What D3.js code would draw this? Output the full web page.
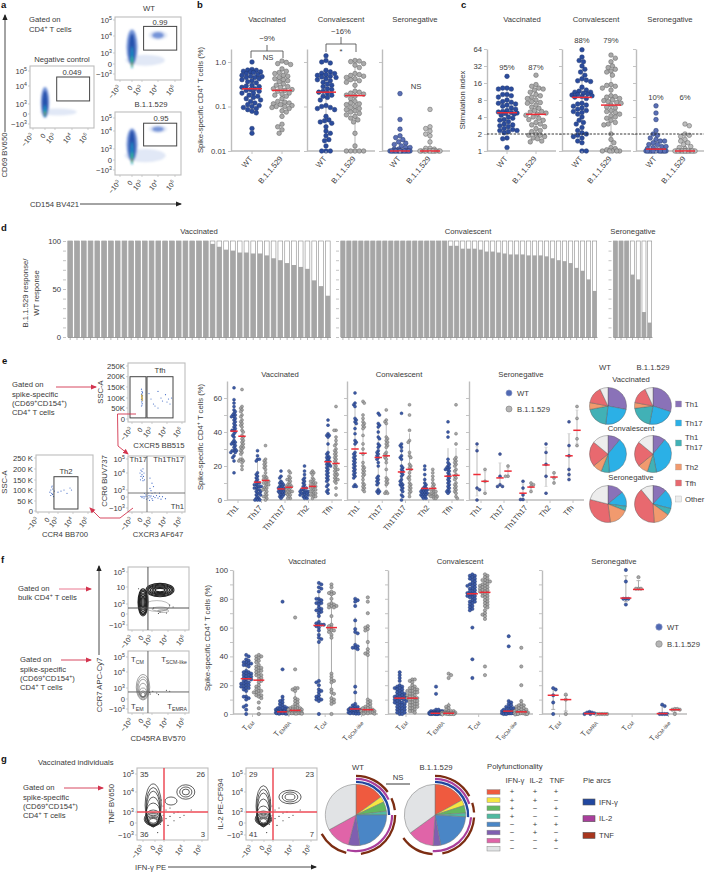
<!DOCTYPE html>
<html><head><meta charset="utf-8">
<script src="https://cdn.jsdelivr.net/npm/d3@7/dist/d3.min.js"></script>
<style>html,body{margin:0;padding:0;background:#fff}svg{display:block}text{font-family:"Liberation Sans",Arial,sans-serif;fill:#3a3a3a}</style>
</head><body><svg id="c" width="705" height="872"></svg>
<script>
// ---------- DATA ----------
const groups=["Vaccinated","Convalescent","Seronegative"];
const variants=["WT","B.1.1.529"];
const flowTicks=["−10^{3}","0","10^{3}","10^{4}","10^{5}"];
const flowUnits=[-1,0,1,2,3];
const sscTicks=[0,50,100,150,200,250];
// panel b
const bTicks=[0.01,0.1,1];
const bMed=[[0.25,0.23],[0.21,0.176],[0.01,0.01]];
const bVacWT=[1.0,.68,.66,.65,.62,.6,.6,.58,.55,.52,.5,.48,.47,.45,.45,.42,.4,.38,.36,.34,.3,.29,.28,.27,.25,.24,.23,.22,.2,.2,.18,.17,.16,.15,.14,.13,.12,.11,.105,.1,.095,.09,.085,.078,.072,.032,.025];
const bVacB=[1.05,.98,.92,.88,.7,.62,.58,.55,.5,.48,.45,.42,.4,.38,.36,.32,.3,.28,.27,.25,.24,.23,.22,.2,.19,.18,.17,.15,.13,.125,.12,.115,.11,.105,.1,.1,.095,.09,.08,.075,.06,.04,.035,.03,.025];
const bConWT=[1.38,1.08,1.0,.95,.65,.6,.56,.55,.52,.5,.48,.46,.45,.42,.4,.38,.35,.32,.3,.28,.25,.24,.22,.21,.2,.18,.17,.16,.14,.105,.1,.095,.09,.085,.06,.05,.048,.045,.042,.035,.028,.025,.022,.018,.017,.013,.01,.01,.01];
const bConB=[1.08,1.05,1.02,.92,.85,.75,.55,.52,.5,.48,.45,.42,.4,.38,.35,.3,.22,.21,.2,.19,.18,.17,.15,.13,.12,.115,.11,.1,.095,.09,.085,.08,.075,.07,.065,.06,.055,.05,.045,.025,.013,.01,.01,.01,.01,.01];
const bSerWT=[.195,.051,.031,.022,.02,.018,.016,.015,.014,.013,.012,.012,.011,.011,.01,.01,.01,.01,.01,.01,.01,.01,.01,.01,.01,.01,.01,.01,.01,.01];
const bSerB=[.086,.035,.032,.028,.024,.022,.016,.0115,.0115,.011,.01,.01,.01,.01,.01,.01,.01,.01,.01,.01,.01,.01];
// panel c
const cTicks=[1,2,4,8,16,32,64];
const cMed=[[4.76,4.46],[8.9,6.5],[1.08,1]];
const cPct=[["95%","87%"],["88%","79%"],["10%","6%"]];
const cPctVal=[[27,27],[82,82],[8,8]];
const cVacWT=[21,13,13,12.5,12.5,10,10,9.5,9,8,7.5,7.3,7,6.8,6.5,6.2,5.8,5.5,5.2,5,4.9,4.8,4.7,4.6,4.5,4.3,4,3.8,3.6,3.5,3.3,3,2.9,2.8,2.7,2.5,2.4,2.3,2.3,2.2,2.1,1.7,1.65,1.15];
const cVacB=[22,15,14,13,12.5,12,11,10,9.5,9,8.5,8,7.5,7.2,7,6.5,6,5.7,5.2,5,4.9,4.7,4.5,4.3,4,3.8,3.6,3.5,3.2,3,2.9,2.7,2.5,2.3,2.2,2,1.9,1.9,1.8,1.7,1.65,1.5,1.45];
const cConWT=[62,46,40,38,32,28,25,22,19,18,17.5,17,13.5,12,11.5,11,11,10.5,10.2,10,9.8,9.5,9.2,9,8.5,7,6.8,6.5,6.2,5.8,5.5,5.2,5,4.8,4.5,4,3.5,3.2,3,2.6,2.3,2.1,2,1.9,1.8,1.7,1.5,1.4,1,1];
const cConB=[50,44,38,32,30,28,26,25,22,15,14.5,14,13,12,9.5,9.2,9,8.5,8,7.8,7.5,7.2,7,6.5,6,5.8,5.2,5,4.8,4.5,4.2,4,3.8,3.5,3.2,3,2.9,2,1.6,1.4,1.15,1.1,1.05,1,1,1,1,1];
const cSerWT=[6.3,4.7,3.6,2.3,2,1.9,1.7,1.6,1.5,1.5,1.4,1.3,1.3,1.2,1.2,1.15,1.1,1.05,1,1,1,1,1,1,1,1,1,1,1,1,1,1];
const cSerB=[3,2.8,2,1.9,1.8,1.6,1.5,1.4,1.3,1.2,1.15,1.1,1,1,1,1,1,1,1,1,1,1,1,1,1,1,1,1];
// panel d
const dVac=[100,100,100,100,100,100,100,100,100,100,100,100,100,100,100,100,100,100,100,100,100,97,94,91,90,88,88,87,87,85,82,80,77,75,73,71,59,53,43];
const dCon=[100,100,100,100,100,100,100,100,100,100,100,100,100,100,100,100,100,100,95,95,92,92,92,91,89,89,88,87,86,86,86,85,85,85,84,82,80,79,77,72,69,60,48];
const dSer=[100,100,100,65,60,26,15];
// panel e
const eCats=["Th1","Th17","Th1Th17","Th2","Tfh"];
const eMedVac=[[40.5,37.5],[10.5,11.5],[6.5,7.5],[7,8],[22.5,21.5]];
const eMedCon=[[30,27.5],[25,26],[16.5,18],[6.8,6.8],[14,14.5]];
const eMedSer=[[15,11],[13,17],[4,7.6],[20.6,13.5],[26,41]];
const eVac=[
[[66,59,57,55,53,52,51,50,50,49,49,48,47,46,45,44,43,42,41,41,40,39,38,37,35,34,34,33,33,32,31,30,29,29,29,28,28,26,25,23,16],[65,55,54,53,52,50,49,47,46,45,44,43,41,40,38,37,36,35,34,33,32,31,31,30,29,28,27,24,24,23,23,22,20,18]],
[[29,26,24,24,23,16,15,14,13,12,11,10,10,9,9,8,8,8,7,7,6,6,5,5,4,4,3,3,2,1,1,0,0,0],[32,24,23,22,21,20,19,18,16,14,14,13,12,12,11,11,10,10,9,9,8,7,7,6,6,5,4,3,2,2,1,0]],
[[17,14,13,11,10,10,9,9,8,8,7,7,7,6,6,6,5,5,5,4,4,4,3,3,2,2,1],[17,16,14,13,12,12,11,10,9,9,8,8,8,7,7,6,6,5,5,5,4,4,3,3,2,1,1]],
[[20,17,15,13,12,11,10,9,8,7,7,6,6,5,5,5,5,4,4,4,4,3,3,3,2,2,1,1],[17,16,16,15,13,12,11,11,10,10,9,9,8,8,7,7,6,6,5,5,4,4,3,3,2,2,1]],
[[47,44,39,38,38,37,33,28,27,26,25,25,24,23,23,22,21,21,20,20,19,18,17,16,15,14,13,12,11,9,8,6,5,4],[55,41,41,37,35,33,32,30,29,28,27,26,25,24,23,22,21,20,19,18,18,17,16,15,15,14,13,12,12,11,10,7,3]]];
const eCon=[
[[63,57,56,55,48,47,46,45,42,39,35,34,33,28,27,26,25,24,23,22,21,20,19,18,17,16,15,14,13,9,8,8],[58,57,50,48,46,45,44,43,42,38,33,30,27,22,20,19,18,17,16,15,14,12,10,9,8,7,6,5]],
[[51,50,45,44,43,40,37,36,33,32,31,29,28,27,26,25,24,22,20,14,13,12,11,10,9,6,5,5,4],[53,47,46,45,37,36,35,34,33,32,31,28,27,26,25,24,22,18,13,12,11,10,9,5,4,4]],
[[51,33,32,31,29,26,25,24,20,19,18,17,16,15,14,12,11,10,9,9,8,7,6,5,3,2,0],[56,50,41,35,34,28,26,25,21,20,19,18,16,14,13,12,10,9,8,7,6,5,4,2]],
[[20,18,15,12,10,9,8,7,7,6,6,6,5,5,5,4,4,4,3,3,3,2,2,1,1],[18,16,14,12,10,9,8,7,6,6,5,5,4,4,3,3,3,2,2,2,1,1]],
[[46,40,37,24,22,21,20,19,19,18,18,17,16,15,14,13,12,11,10,9,8,7,6,5,5,4],[56,39,33,25,24,23,22,21,20,18,17,15,14,13,12,10,9,8,7,6,5,4,2,1]]];
const eSer=[
[[33,29,7,6,0],[18,11,4]],
[[27,14,9,8,8],[20,14,14]],
[[11,7,3,0.3,0.3],[10,9,8,5]],
[[33,28,21,14,4],[16,13,10]],
[[46,32,26,18,15,12],[55,48,36,32]]];
const pieNames=["Th1","Th17","Th1 Th17","Th2","Tfh","Other"];
const pieVac=[[28,24,20,6,15,7],[30,23,20,5,15,7]];
const pieCon=[[11,38,7,8,22,14],[11,36,8,9,22,14]];
const pieSer=[[14,13,4,17,31,21],[12,17,6,14,40,11]];
// panel f
const fCats=["T_{EM}","T_{EMRA}","T_{CM}","T_{SCM-like}"];
const fMedVac=[[24.5,23.5],[1.5,2.5],[61.5,60],[3.5,3]];
const fMedCon=[[11,11],[0.5,0.5],[83.5,84.5],[2,1.5]];
const fMedSer=[[13,10],[0.3,0.2],[80.5,86.5],[0.3,3]];
const fVac=[
[[41,40,38,37,36,36,35,35,34,34,33,30,29,29,28,28,27,27,26,26,25,25,24,24,23,22,22,21,21,20,20,19,19,18,18,17,16,12,12,11,10,6,5,3,0],[41,40,40,39,38,37,36,34,33,32,32,31,30,30,29,28,27,27,26,25,24,23,22,20,19,18,17,16,16,15,15,14,13,13,12,11,8,4,0]],
[[78,31,12,10,9,8,7,6,5,5,4,4,4,3,3,3,3,2,2,2,2,2,2,1,1,1,1,1,1,1,1,.5,.5,.5,.5,.5,.5,.2,.2,.2],[67,31,18,18,17,16,11,10,9,8,7,6,5,5,4,4,4,3,3,3,3,2,2,2,2,1,1,1,1,1,1,.5,.5,.5,.5,.5,.2,.2]],
[[91,90,88,87,85,80,80,79,78,77,77,76,74,73,72,72,71,70,68,64,63,62,62,62,61,60,58,55,53,52,50,23,22,20,17,16,15,13,12,11,10,10,9,0],[90,88,85,84,84,83,80,77,76,76,75,75,74,74,68,62,61,60,59,58,58,57,55,53,28,26,24,23,22,17,15,14,11,10,9,8,7,0]],
[[80,79,78,75,65,59,57,56,48,47,46,46,45,19,15,7,6,5,5,4,4,3,3,3,3,2,2,2,2,1,1,1,1,1,.5,.5,.5,.2,.2],[81,78,70,61,60,59,58,50,45,43,42,41,10,9,8,7,6,5,5,4,4,3,3,3,2,2,2,2,1,1,1,.5,.5,.2,.2]]];
const fCon=[
[[29,27,25,23,20,19,19,18,18,17,17,16,15,15,14,14,13,13,12,12,12,11,11,11,10,10,10,9,9,8,8,8,7,7,6,6,5,5,4,4,3,3,2,2,1,1,0,0],[24,24,23,22,20,19,18,18,17,17,16,16,16,15,15,14,14,13,13,12,12,11,11,11,10,10,9,9,8,8,7,7,6,6,5,5,4,4,3,2,2,1]],
[[19,14,3,3,2,2,2,2,1,1,1,1,1,1,1,.5,.5,.5,.5,.5,.5,.5,.2,.2,.2,.2,.2,.2,0,0,0,0,0,0],[28,27,25,6,5,4,3,2,2,2,1,1,1,1,1,.5,.5,.5,.5,.5,.5,.2,.2,.2,.2,0,0,0,0,0]],
[[97,96,96,95,94,94,93,92,91,90,90,89,89,88,87,87,86,85,85,84,84,83,83,82,82,81,81,80,79,78,78,77,76,75,74,73,72,60,38,25],[97,96,95,94,93,93,92,92,91,90,90,89,89,88,88,87,87,86,86,85,85,84,84,83,82,82,81,80,79,78,77,76,75,74,72,70,69,68,66,33,27]],
[[54,47,9,8,7,6,5,5,4,4,3,3,3,2,2,2,2,1,1,1,1,1,1,.5,.5,.5,.5,.5,.5,0,0,0],[46,33,20,9,7,6,6,5,5,4,4,3,3,3,2,2,2,1,1,1,1,1,.5,.5,.5,.5,0,0,0,0]]];
const fSer=[
[[18,17,13,8,0],[13.5,10,0]],
[[1.5,1,1,.5,0,0],[0,0,0,0,0]],
[[100,92,80,80,80,76],[95,87,87,87]],
[[6.5,5.5,0,0,0,0],[3.5,3.5,3,3,0]]];
// panel a/e/f/g flow cytometry read-offs
const aTitles=["Negative control","WT","B.1.1.529"];
const aGateVals=["0.049","0.99","0.95"];
const aGate=[1.1,3.1,1.17,2.6];
const densityCols=["#c9d5ef","#6f8fd6","#2450ac","#1f8fc4","#37c48c","#e9d23a","#e8662a"];
const densNeg=[[1.2,.2,1.1,.35,0],[0,1.1,.42,.85,1],[0,1.0,.3,.75,2],[0,.3,.15,.6,3],[0,.1,.1,.3,4],[0,.02,.05,.12,6]];
const densWT=[[1.2,.35,1.2,.5,0],[0,1.35,.55,1.05,1],[0,1.2,.34,.95,2],[0,.6,.14,.8,3],[0,.2,.1,.5,4],[0,.02,.05,.15,6],[2,2.05,.55,.3,0],[2,2.05,.35,.2,1]];
const densB=[[1.2,.4,1.25,.6,0],[0,1.25,.55,.95,1],[0,1.15,.34,.9,2],[0,.6,.14,.8,3],[0,.2,.1,.5,4],[0,.02,.05,.15,6],[2,2.15,.55,.3,0],[2,2.15,.35,.2,1]];
const tfhPts=[[-.05,140],[0,130],[.05,125],[0,120],[-.05,115],[.05,112],[0,108],[-.03,105],[.03,100],[0,96],[-.05,92],[.05,90],[0,85],[-.03,80],[.02,72],[0,65],[-.05,60],[.9,95],[1.1,70],[1.2,60],[1.4,130],[1.4,50],[1.6,100],[1.7,85],[1.9,115],[2,80],[2.1,95],[2.2,70],[2.3,100],[.7,120]];
const tfhHot=[[0,98],[0,105],[.02,90],[-.02,112]];
const th2Pts=[[.1,90],[.2,100],[.3,115],[.3,85],[.4,105],[.5,70],[.4,80],[1,90],[1.2,95],[1.4,100],[1.6,85],[1.8,110],[1.9,100],[.2,75],[.35,120],[.6,95]];
const ccr6Pts=[[-.1,2.2],[.1,2.3],[0,2.1],[-.2,2],[.2,2],[0,1.9],[-.1,1.8],[.15,1.8],[.05,1.7],[-.15,1.6],[.1,1.55],[.25,1.6],[.8,1.7],[1,1.4],[1.1,1.2],[.8,1.1],[.9,.9],[.4,.3],[.5,.1],[.6,-.1],[.7,.2],[.8,0],[.9,.15],[1,-.15],[1.1,.1],[1.2,-.05],[1.3,.2],[1.4,-.1],[1.5,.1],[1.6,-.2],[1.7,.05],[1.9,-.15],[.3,.05],[.2,-.1],[.1,.1],[0,-.05],[-.1,.08],[.25,.5],[.6,.55],[1,.5],[1.2,.6],[1.5,.55],[.45,-.2],[.75,-.3],[1.05,-.3]];
const bulkDark=[[0,1.1,.55,.8],[0,1.1,.5,.72],[0,1.1,.45,.65],[0,1.1,.4,.55],[0,1.1,.3,.45],[0,1.1,.2,.35],[0,1.1,.1,.3],[1.5,1.82,.85,.42],[1.5,1.82,.78,.36],[1.5,1.82,.7,.3],[1.5,1.82,.6,.25],[1.5,1.82,.5,.2],[1.5,1.82,.4,.15],[1.5,1.82,.3,.1]];
const bulkLight=[[1.3,.8,.8,.4],[1.5,.5,.5,.2],[1.7,.3,.35,.15]];
const bulkDots=[[.6,1.9],[1.1,.6],[1.5,.2],[2.1,.9],[2.3,.7],[-.4,1.9],[1.9,.1],[1.4,.05]];
const specContours=[[0,1.05,.75,.8],[0,1,.65,.7],[0,.95,.55,.6],[0,.8,.45,.5],[0,.6,.38,.4],[0,.45,.3,.3],[0,.4,.2,.2]];
const specDots=[[.75,.6],[.8,.45],[1.05,.7],[1.3,.55],[1.4,.4],[1.9,.8],[2.1,.7]];
const tnfContours=[[-.15,1.35,.85,1.1],[-.15,1.25,.75,1.0],[-.15,1.15,.7,.9],[-.15,1.0,.7,.75],[-.15,.8,.75,.65],[-.15,.5,.85,.6],[-.15,.35,.95,.6],[-.15,.3,.85,.55],[-.15,.25,.75,.45],[-.15,.2,.65,.38],[-.15,.2,.5,.3],[-.15,.2,.38,.22],[2.1,2,.5,.4],[2.1,2,.34,.28],[2.1,2,.2,.16],[1.35,1.55,.3,.2]];
const il2Contours=[[-.05,1.3,.8,1.05],[-.05,1.2,.72,.95],[-.05,1.1,.66,.85],[-.05,.95,.66,.7],[-.05,.7,.72,.6],[-.05,.5,.8,.55],[-.05,.35,.9,.55],[-.05,.3,.8,.5],[-.05,.25,.7,.42],[-.05,.2,.6,.35],[-.05,.2,.46,.27],[-.05,.2,.34,.2],[1.85,1.75,.6,.35],[1.85,1.75,.42,.25],[1.85,1.75,.26,.15]];
const gDots=[[.7,1.6],[.9,1.3],[1.1,1.1],[1.3,1.2],[1.5,.9],[1.7,1],[2,.7],[.9,.7],[1.1,.4],[1.3,.6],[1.5,.2],[1.8,.5],[.6,-.1],[1.2,-.2],[.8,.2],[2.4,1.1],[.3,-.8]];
const gPlotVals=[["35","26","36","3"],["29","23","41","7"]];
const polyCols=["#ef5a3f","#f5e642","#62b85f","#4fb9a0","#4a86c6","#7f5fb0","#e064a8","#e1e3e5"];
const polyWT=[15,3,5,2,23,6,13,33];
const polyB=[17,3,4,2,21,4,14,35];
const ifnSigns=["+","+","+","+","−","−","−","−"];
const il2Signs=["+","+","−","−","+","+","−","−"];
const tnfSigns=["+","−","+","−","+","−","+","−"];
const arcNames=["IFN-γ","IL-2","TNF"];

// ---------- HELPERS ----------
const svg=d3.select("#c");
const FS=7.7;
const blue="#2b4c9e",blueS="#22386f",grey="#aaaaaa",greyS="#5e5e5e",red="#ee2b36",axisC="#bdbdbd";
const defs=svg.append("defs");
defs.append("filter").attr("id","bl").attr("x","-30%").attr("y","-30%").attr("width","160%").attr("height","160%").append("feGaussianBlur").attr("stdDeviation",1);
function marker(id,c){defs.append("marker").attr("id",id).attr("viewBox","0 0 6 6").attr("refX",5).attr("refY",3).attr("markerWidth",6).attr("markerHeight",6).attr("markerUnits","userSpaceOnUse").attr("orient","auto").append("path").attr("d","M0,0.4L6,3L0,5.6Z").attr("fill",c);}
marker("ak","#222");marker("ar","#d3344e");
function txt(g,x,y,s,o={}){
  const fs=o.fs||FS;
  const t=g.append("text").attr("x",x).attr("y",y).attr("font-size",fs).attr("text-anchor",o.a||"start");
  if(o.rot!=null)t.attr("transform",`rotate(${o.rot},${x},${y})`);
  if(o.w)t.attr("font-weight",o.w);
  if(o.fill)t.style("fill",o.fill);
  rich(t,s,fs);return t;
}
function rich(t,s,fs){
  const parts=String(s).match(/\^\{[^}]*\}|_\{[^}]*\}|[^\^_]+/g)||[];
  let back=0;
  parts.forEach(p=>{
    const sup=p[0]==="^",sub=p[0]==="_";
    const sp=t.append("tspan");
    if(sup||sub){const d=sup?-fs*.38:fs*.25;sp.attr("dy",d+back).attr("font-size",fs*.68).text(p.slice(2,-1));back=-d;}
    else{if(back)sp.attr("dy",back);sp.text(p);back=0;}
  });
}
function letter(x,y,s){txt(svg,x,y,s,{fs:9.5,w:"bold",fill:"#111"});}
function yAxis(x,scale,vals,labeled,fmt){
  const ax=d3.axisLeft(scale).tickValues(vals).tickSize(3).tickSizeOuter(0).tickPadding(2);
  ax.tickFormat(labeled?(fmt||(d=>d)):"");
  const g=svg.append("g").attr("transform",`translate(${x},0)`).call(ax);
  g.select(".domain").attr("stroke",axisC).attr("stroke-width",1.4);
  g.selectAll(".tick line").attr("stroke",axisC).attr("stroke-width",.9);
  g.selectAll("text").attr("font-size",FS).attr("font-family","Liberation Sans");
  return g;
}
function baseline(x0,x1,y){svg.append("line").attr("x1",x0).attr("x2",x1).attr("y1",y).attr("y2",y).attr("stroke",axisC).attr("stroke-width",1.4);}
function xTickLabel(x,y,s,tick=true){
  if(tick)svg.append("line").attr("x1",x).attr("x2",x).attr("y1",y).attr("y2",y+3).attr("stroke",axisC).attr("stroke-width",.9);
  txt(svg,x+1,y+8,s,{a:"end",rot:-50});
}
function dodge(vals,ys,d,maxW){
  const pts=vals.map(v=>({v,py:ys(v)})).sort((a,b)=>a.py-b.py);
  const placed=[];const step=d/3;
  pts.forEach(p=>{
    let best=0,bestScore=-1;
    for(let k=0;k*step<=maxW;k++){
      const cands=k===0?[0]:(placed.length%2?[k*step,-k*step]:[-k*step,k*step]);
      let found=false;
      for(const off of cands){
        let m=Infinity;
        placed.forEach(q=>{const dd=Math.hypot(q.off-off,q.py-p.py);if(dd<m)m=dd;});
        if(m>=d){best=off;found=true;break;}
        if(m>bestScore){bestScore=m;best=off;}
      }
      if(found)break;
    }
    p.off=best;placed.push(p);
  });
  return placed;
}
function swarm(vals,cx,ys,med,o){
  const g=svg.append("g");
  const sorted=vals.slice().sort(d3.ascending);
  const lo=d3.quantile(sorted,o.ql||.1),hi=d3.quantile(sorted,o.qh||.9);
  g.append("line").attr("x1",cx).attr("x2",cx).attr("y1",ys(Math.max(lo,o.floor||lo))).attr("y2",ys(hi)).attr("stroke",o.wc||"#a5a5a5").attr("stroke-width",o.ww||.8);
  if(o.cap)[lo,hi].forEach(v=>g.append("line").attr("x1",cx-o.cap).attr("x2",cx+o.cap).attr("y1",ys(Math.max(v,o.floor||v))).attr("y2",ys(Math.max(v,o.floor||v))).attr("stroke",o.wc||"#a5a5a5").attr("stroke-width",.8));
  g.selectAll("circle").data(dodge(vals,ys,o.d,o.maxW)).join("circle")
    .attr("cx",p=>cx+p.off).attr("cy",p=>p.py).attr("r",o.r).attr("fill",o.fill).attr("stroke",o.stroke).attr("stroke-width",o.sw||.5);
  g.append("line").attr("x1",cx-o.hw).attr("x2",cx+o.hw).attr("y1",ys(med)).attr("y2",ys(med)).attr("stroke",red).attr("stroke-width",1.5);
}
function flow(c){
  const xs=d3.scaleLinear().domain(flowUnits).range(c.xt);
  const ys=d3.scaleLinear().domain(c.yd||flowUnits).range(c.yt);
  const [x0,x1,y0,y1]=c.frame;
  const id="cl"+Math.round(x0)+"_"+Math.round(y0);
  defs.append("clipPath").attr("id",id).append("rect").attr("x",x0).attr("y",y0).attr("width",x1-x0).attr("height",y1-y0);
  const g=svg.append("g");
  const inner=g.append("g").attr("clip-path",`url(#${id})`);
  if(c.dens){
    inner.append("g").attr("filter","url(#bl)").selectAll("ellipse").data(c.dens).join("ellipse")
      .attr("cx",d=>xs(d[0])).attr("cy",d=>ys(d[1]))
      .attr("rx",d=>Math.abs(xs(d[0]+d[2])-xs(d[0]))).attr("ry",d=>Math.abs(ys(d[1]+d[3])-ys(d[1])))
      .attr("fill",d=>densityCols[d[4]]).attr("opacity",d=>d[4]===0?.55:.95);
  }
  if(c.pts)inner.selectAll(".p").data(c.pts).join("circle").attr("cx",d=>xs(d[0])).attr("cy",d=>ys(d[1])).attr("r",c.pr||.6).attr("fill",c.pc||"#3f68c4");
  if(c.hot)inner.selectAll(".h").data(c.hot).join("circle").attr("cx",d=>xs(d[0])).attr("cy",d=>ys(d[1])).attr("r",.8).attr("fill","#e7b52c");
  const ell=(data,col,w)=>inner.append("g").selectAll("ellipse").data(data).join("ellipse")
      .attr("cx",d=>xs(d[0])).attr("cy",d=>ys(d[1]))
      .attr("rx",d=>Math.abs(xs(d[0]+d[2])-xs(d[0]))).attr("ry",d=>Math.abs(ys(d[1]+d[3])-ys(d[1])))
      .attr("fill","none").attr("stroke",col).attr("stroke-width",w);
  if(c.cont2)ell(c.cont2,"#777",.5);
  if(c.cont)ell(c.cont,c.cc||"#222",c.cw||.8);
  if(c.dots)inner.selectAll(".d").data(c.dots).join("circle").attr("cx",d=>xs(d[0])).attr("cy",d=>ys(d[1])).attr("r",.55).attr("fill","#222");
  g.append("rect").attr("x",x0).attr("y",y0).attr("width",x1-x0).attr("height",y1-y0).attr("fill","none").attr("stroke","#bdbdbd").attr("stroke-width",1.1);
  // ticks
  const yl=c.yl||flowTicks,yd=c.yd||flowUnits;
  yd.forEach((v,i)=>{
    g.append("line").attr("x1",x0-2).attr("x2",x0).attr("y1",ys(v)).attr("y2",ys(v)).attr("stroke","#bbb").attr("stroke-width",.7);
    txt(g,x0-3,ys(v)+2.6,yl[i],{a:"end"});
  });
  flowUnits.forEach((v,i)=>{
    g.append("line").attr("x1",xs(v)).attr("x2",xs(v)).attr("y1",y1).attr("y2",y1+2).attr("stroke","#bbb").attr("stroke-width",.7);
    txt(g,xs(v)+1,y1+8,flowTicks[i],{a:"end",rot:-50,fs:7});
  });
  (c.gates||[]).forEach(q=>{
    g.append("rect").attr("x",xs(q[0])).attr("y",ys(q[3])).attr("width",xs(q[1])-xs(q[0])).attr("height",ys(q[2])-ys(q[3])).attr("fill","none").attr("stroke",q[4]||"#444").attr("stroke-width",1);
  });
  if(c.cross){
    const cc=c.crossC||"#555",cw=c.crossW||1;
    g.append("line").attr("x1",xs(c.cross[0])).attr("x2",xs(c.cross[0])).attr("y1",y0).attr("y2",y1).attr("stroke",cc).attr("stroke-width",cw);
    g.append("line").attr("x1",x0).attr("x2",x1).attr("y1",ys(c.cross[1])).attr("y2",ys(c.cross[1])).attr("stroke",cc).attr("stroke-width",cw);
  }
  return {xs,ys,g};
}
function arrow(x1,y1,x2,y2,m,col,w){svg.append("line").attr("x1",x1).attr("y1",y1).attr("x2",x2).attr("y2",y2).attr("stroke",col).attr("stroke-width",w||.9).attr("marker-end",`url(#${m})`);}
function polyArrow(d){svg.append("path").attr("d",d).attr("fill","none").attr("stroke","#d3344e").attr("stroke-width",.9).attr("marker-end","url(#ar)");}
function lines(x,ys,arr,o={}){arr.forEach((s,i)=>txt(svg,x,ys[i],s,o));}
const wtOpt=(extra)=>Object.assign({fill:blue,stroke:blueS},extra);
const bOpt=(extra)=>Object.assign({fill:grey,stroke:greyS},extra);

// ---------- PANEL a ----------
letter(1,8,"a");letter(197,8,"b");letter(461,8,"c");letter(1,231,"d");letter(2,364,"e");letter(1,563,"f");letter(1,762,"g");
lines(29,[22,32],["Gated on","CD4^{+} T cells"]);
const aPlots=[
 {frame:[30,94,66,128],xt:[33,45,55,72,88],yt:[124,114,104,86,71],dens:densNeg,tx:62,ty:62,vx:72,vy:75},
 {frame:[115,181,17,80],xt:[120,132,142,158,175],yt:[74,64,53,36,20],dens:densWT,tx:149,ty:11,vx:160,vy:24.5},
 {frame:[115,181,112,175],xt:[120,132,142,158,175],yt:[170,160,149,131,118],dens:densB,tx:151,ty:107,vx:161,vy:120.5}];
aPlots.forEach((p,i)=>{
  flow(Object.assign({gates:[aGate]},p));
  txt(svg,p.tx,p.ty,aTitles[i],{a:"middle"});
  txt(svg,p.vx,p.vy,aGateVals[i],{a:"middle"});
});
txt(svg,7,155,"CD69 BV650",{a:"middle",rot:-90});
arrow(5,132,5,15,"ak","#333");
txt(svg,30,207,"CD154 BV421");
arrow(80,204,181,204,"ak","#333");

// ---------- PANEL b ----------
const bY=d3.scaleLog().domain([0.01,1.96]).range([151,49]);
const bAxes=[[231,300],[307,375],[382,450]];
const bX=[[252,282],[326,355],[400,430]];
const bData=[[bVacWT,bVacB],[bConWT,bConB],[bSerWT,bSerB]];
const bTitleX=[267,341,415];
bAxes.forEach((a,i)=>{
  yAxis(a[0],bY,bTicks,i===0,d=>d===1?"1.0":String(d));
  baseline(a[0],a[1],151);
  txt(svg,bTitleX[i],22,groups[i],{a:"middle"});
  variants.forEach((v,j)=>{
    const f=(j===0?(i===2?"#5b6fb5":blue):(i===2?"#bdbdbd":grey));
    swarm(bData[i][j],bX[i][j],bY,bMed[i][j],{fill:f,stroke:j===0?blueS:greyS,r:2.3,d:4.3,maxW:10.5,hw:10,wc:"#888",ww:.6});
    xTickLabel(bX[i][j],151,v);
  });
});
txt(svg,203,100,"Spike-specific CD4^{+} T cells (%)",{a:"middle",rot:-90});
function bracket(x0,x1,y,h,stem){svg.append("path").attr("d",`M${x0},${y+h}V${y}H${x1}V${y+h}M${(x0+x1)/2},${y}V${y-stem}`).attr("fill","none").attr("stroke","#555").attr("stroke-width",.9);}
bracket(251,283,51,7,6);txt(svg,267,41,"−9%",{a:"middle"});txt(svg,268,60,"NS",{a:"middle"});
bracket(326,356,44,8,7);txt(svg,341,34,"−16%",{a:"middle"});txt(svg,341,54,"*",{a:"middle"});
txt(svg,416,89,"NS",{a:"middle"});

// ---------- PANEL c ----------
const cY=d3.scaleLog().base(2).domain([1,64]).range([151,49]);
const cAxes=[[487,556],[562,631],[636,704]];
const cX=[[507,536],[582,611],[656,685]];
const cData=[[cVacWT,cVacB],[cConWT,cConB],[cSerWT,cSerB]];
const cTitleX=[522,596,670];
cAxes.forEach((a,i)=>{
  yAxis(a[0],cY,cTicks,i===0);
  baseline(a[0],a[1],151);
  txt(svg,cTitleX[i],22,groups[i],{a:"middle"});
  variants.forEach((v,j)=>{
    const f=(j===0?(i===2?"#5b6fb5":blue):(i===2?"#bdbdbd":grey));
    swarm(cData[i][j],cX[i][j],cY,cMed[i][j],{fill:f,stroke:j===0?blueS:greyS,r:2.3,d:4.3,maxW:10.5,hw:10,wc:"#888",ww:.6});
    xTickLabel(cX[i][j],151,v);
    txt(svg,cX[i][j],cY(cPctVal[i][j]),cPct[i][j],{a:"middle"});
  });
});
svg.append("line").attr("x1",487).attr("x2",704).attr("y1",cY(2)).attr("y2",cY(2)).attr("stroke","#222").attr("stroke-width",.9).attr("stroke-dasharray","2.4,1.4");
txt(svg,465,100,"Stimulation index",{a:"middle",rot:-90});

// ---------- PANEL d ----------
const dY=d3.scaleLinear().domain([0,100]).range([337,241]);
const dMinor=[0,10,20,30,40,50,60,70,80,90,100];
const dPanels=[[dVac,67.5,330.5,0],[dCon,340.5,597,1],[dSer,613,652,2]];
const dTitleX=[199,468,633];
dPanels.forEach(([vals,x0,x1,i])=>{
  const bx=d3.scaleBand().domain(d3.range(vals.length)).range([x0,x1]).paddingInner(.3).paddingOuter(.05);
  const g=yAxis(x0-1.5,dY,dMinor,i===0,d=>(d%50===0?d:""));
  g.select(".domain").attr("stroke","none");
  const ag=svg.append("g").attr("transform","translate(0,337)").call(d3.axisBottom(bx).tickSize(3).tickFormat("").tickSizeOuter(0));
  ag.select(".domain").attr("stroke","#9a9a9a").attr("stroke-width",.9);
  ag.selectAll(".tick line").attr("stroke","#9a9a9a").attr("stroke-width",.7);
  svg.append("g").selectAll("rect").data(vals).join("rect").attr("x",(d,k)=>bx(k)).attr("width",bx.bandwidth()).attr("y",dY(100)).attr("height",dY(0)-dY(100)).attr("fill","#fff").attr("stroke","#8c8c8c").attr("stroke-width",.6);
  svg.append("g").selectAll("rect").data(vals).join("rect").attr("x",(d,k)=>bx(k)).attr("width",bx.bandwidth()).attr("y",d=>dY(d)).attr("height",d=>dY(0)-dY(d)).attr("fill","#a6a6a6");
  txt(svg,dTitleX[i],234,groups[i],{a:"middle"});
});
txt(svg,28,293,"B.1.1.529 response/",{a:"middle",rot:-90});
txt(svg,39,293,"WT response",{a:"middle",rot:-90});

// ---------- PANEL e ----------
const xtE=[132,142,152,167,182];
lines(12,[387,396.5,405.5,414.5],["Gated on","spike-specific","(CD69^{+}CD154^{+})","CD4^{+} T cells"]);
arrow(56,387,96,387,"ar","#d3344e");
const kLab=["0","50K","100K","150K","200K","250K"];
const tfhPlot=flow({frame:[128,185,363,422],xt:xtE,yt:[419,408,398,387,376.7,366],yd:sscTicks,yl:kLab,pts:tfhPts,hot:tfhHot,gates:[[-1.2,.4,5,200],[.5,2.4,5,200]]});
txt(svg,160,373,"Tfh",{a:"middle"});
txt(svg,103,392,"SSC-A",{a:"middle",rot:-90});
txt(svg,159,448,"CXCR5 BB515",{a:"middle"});
flow({frame:[36,93,455,512],xt:[38,49,58,73,88],yt:[511,501,490,480,469,458],yd:sscTicks,yl:["0","50 K","100 K","150 K","200 K","250 K"],pts:th2Pts,gates:[[.55,2.33,10,165]]});
txt(svg,66,474,"Th2",{a:"middle"});
txt(svg,7,482,"SSC-A",{a:"middle",rot:-90});
txt(svg,65,537,"CCR4 BB700",{a:"middle"});
flow({frame:[128,185,456,512],xt:xtE,yt:[508,497,490,473,459],pts:ccr6Pts,cross:[.5,.57],crossC:"#777"});
txt(svg,129.5,462,"Th17");txt(svg,184,462,"Th1Th17",{a:"end"});txt(svg,184,509,"Th1",{a:"end"});
txt(svg,107,481,"CCR6 BUV737",{a:"middle",rot:-90});
txt(svg,158,537,"CXCR3 AF647",{a:"middle"});
polyArrow("M136,414H117.5L118,446L128,454");
polyArrow("M133,508L120,518H100L90,508");

const eY=d3.scaleLinear().domain([0,70]).range([500,381]);
const ePanels=[[227,342,238,332,eVac,eMedVac,280],[347,464,359,452,eCon,eMedCon,399],[469,584,481,573,eSer,eMedSer,521]];
ePanels.forEach((p,i)=>{
  const [ax0,ax1,c0,c1,data,med,tx]=p;
  yAxis(ax0,eY,[0,10,20,30,40,50,60],i===0,d=>(d%20===0?d:""));
  baseline(ax0,ax1,500);
  txt(svg,tx,377,groups[i],{a:"middle"});
  const xc=d3.scalePoint().domain(eCats).range([c0,c1]);
  eCats.forEach((c,k)=>{
    const o={r:1.5,d:i===2?2.5:1.9,maxW:i===2?3:5,hw:3.7,ww:i===2?1.4:.7,wc:i===2?"#cfcfcf":"#a5a5a5",sw:.4};
    if(i===2){o.cap=1.5;}
    swarm(data[k][0],xc(c)-4,eY,med[k][0],wtOpt(Object.assign({},o,{fill:i===2?"#44589f":"#3d5ba8"})));
    swarm(data[k][1],xc(c)+4,eY,med[k][1],bOpt(Object.assign({},o,{fill:"#a8a8a8"})));
    xTickLabel(xc(c),500,c);
  });
});
txt(svg,203,437,"Spike-specific CD4^{+} T cells (%)",{a:"middle",rot:-90});
function legendDots(x,y1,y2,r){
  svg.append("circle").attr("cx",x).attr("cy",y1).attr("r",r).attr("fill","#5069b3").attr("stroke","#8a96c4").attr("stroke-width",.7);
  svg.append("circle").attr("cx",x).attr("cy",y2).attr("r",r).attr("fill","#b5b5b5").attr("stroke","#888").attr("stroke-width",.7);
  txt(svg,x+8,y1+2.7,variants[0]);txt(svg,x+8,y2+2.7,variants[1]);
}
legendDots(509,393,409,3);
// pies
const pieCols=["#8a72b8","#2bb0e6","#41b1b6","#f19a6e","#e8696f","#ededed"];
const pie=d3.pie().sort(null).value(d=>d);
const arcE=d3.arc().innerRadius(0).outerRadius(18.5);
const pieRows=[[pieVac,406,382],[pieCon,454,431],[pieSer,504,480]];
const pieX=[608,653];
txt(svg,605,370,variants[0],{a:"middle"});txt(svg,653,370,variants[1],{a:"middle"});
pieRows.forEach(([vals,cy,ty],i)=>{
  txt(svg,631,ty,groups[i],{a:"middle"});
  vals.forEach((v,j)=>{
    svg.append("g").attr("transform",`translate(${pieX[j]},${cy})`).selectAll("path").data(pie(v)).join("path")
      .attr("d",arcE).attr("fill",(d,k)=>pieCols[k]).attr("stroke","#555").attr("stroke-width",.4);
  });
});
const pieLegY=[404,423,443,467,483,499];
pieNames.forEach((n,i)=>{
  svg.append("rect").attr("x",675.5).attr("y",pieLegY[i]-3).attr("width",6).attr("height",6).attr("fill",pieCols[i]).attr("stroke","#999").attr("stroke-width",.3);
  if(n==="Th1 Th17"){txt(svg,685,440,"Th1");txt(svg,685,450,"Th17");}
  else txt(svg,685,pieLegY[i]+2.7,n);
});

// ---------- PANEL f ----------
lines(18,[591,600],["Gated on","bulk CD4^{+} T cells"]);
arrow(59,589,91,589,"ar","#e86a85");
lines(20,[662,671.5,680.5,690],["Gated on","spike-specific","(CD69^{+}CD154^{+})","CD4^{+} T cells"]);
arrow(61,660,91,660,"ar","#d3344e");
const xtF=[132,143,152,168,185];
flow({frame:[128,189,567,630],xt:xtF,yt:[625,614,604,587,572],yl:["−10^{3}","0","10^{3}","10","10^{5}"],cont:bulkDark,cw:1.1,cont2:bulkLight,dots:bulkDots,cross:[.55,.6],crossC:"#555"});
flow({frame:[128,189,651,713],xt:xtF,yt:[709,699,688,672,657],cont:specContours,cc:"#666",cw:.6,dots:specDots,cross:[.55,.64],crossC:"#666"});
txt(svg,131,662,"T_{CM}");txt(svg,187,662,"T_{SCM-like}",{a:"end"});
txt(svg,131,709,"T_{EM}");txt(svg,187,709,"T_{EMRA}",{a:"end"});
txt(svg,102,685,"CCR7 APC-Cy7",{a:"middle",rot:-90});
arrow(99,655,99,566,"ak","#333");
txt(svg,158,741,"CD45RA BV570",{a:"middle"});

const fY=d3.scaleLinear().domain([0,100]).range([714,570]);
const fPanels=[[233,378,252.5,361.5,fVac,fMedVac,307],[388,533,406,515,fCon,fMedCon,460],[542,687,559.5,668.5,fSer,fMedSer,614]];
fPanels.forEach((p,i)=>{
  const [ax0,ax1,c0,c1,data,med,tx]=p;
  yAxis(ax0,fY,[0,10,20,30,40,50,60,70,80,90,100],i===0,d=>(d%20===0?d:""));
  baseline(ax0,ax1,714);
  txt(svg,tx,564,groups[i],{a:"middle"});
  const xc=d3.scalePoint().domain(fCats).range([c0,c1]);
  fCats.forEach((c,k)=>{
    const o={r:1.65,d:2.5,maxW:i===2?5:7,hw:5.5,ww:.9,wc:"#a0a0a0",sw:.45};
    if(i===2)o.cap=2;
    swarm(data[k][0],xc(c)-6.3,fY,med[k][0],wtOpt(Object.assign({},o,{fill:"#3d5ba8"})));
    swarm(data[k][1],xc(c)+6.3,fY,med[k][1],bOpt(Object.assign({},o,{fill:"#a8a8a8"})));
    xTickLabel(xc(c),714,c);
  });
});
txt(svg,210,638,"Spike-specific CD4^{+} T cells (%)",{a:"middle",rot:-90});
legendDots(659,627,644,3.2);

// ---------- PANEL g ----------
txt(svg,38,765,"Vaccinated individuals");
lines(23,[790,799.5,808.5,818],["Gated on","spike-specific","(CD69^{+}CD154^{+})","CD4^{+} T cells"]);
arrow(64,788,103,788,"ar","#d3344e");
const gY=[835,823,812,792,774];
const gPlots=[{frame:[137,208,768,840],xt:[143,155,164,184,202],cont:tnfContours,lx:[140,205],ys:"TNF BV650",yx:114},
              {frame:[246,317,768,840],xt:[252,264,273,293,311],cont:il2Contours,lx:[249,314],ys:"IL-2 PE-CF594",yx:223}];
gPlots.forEach((p,i)=>{
  flow({frame:p.frame,xt:p.xt,yt:gY,cont:p.cont,cc:"#2b2b2b",cw:.75,dots:gDots,cross:[1,1],crossC:"#ee4b57",crossW:1.5});
  txt(svg,p.lx[0],777,gPlotVals[i][0]);txt(svg,p.lx[1],777,gPlotVals[i][1],{a:"end"});
  txt(svg,p.lx[0],837,gPlotVals[i][2]);txt(svg,p.lx[1],837,gPlotVals[i][3],{a:"end"});
  txt(svg,p.yx,804,p.ys,{a:"middle",rot:-90});
});
txt(svg,135,870,"IFN-γ PE");
arrow(168,867,316,867,"ak","#333");
const arcP=d3.arc().innerRadius(0).outerRadius(30.7);
const ringR=[[31.9,34.3],[35,37.2],[38,40.3]];
const ringC=["#2147a0","#a93f9c","#7c2d12"];
const signSets=[ifnSigns,il2Signs,tnfSigns];
[[polyWT,356],[polyB,435]].forEach(([vals,cx],i)=>{
  const g=svg.append("g").attr("transform",`translate(${cx},815)`);
  const slices=pie(vals);
  g.selectAll("path.s").data(slices).join("path").attr("d",arcP).attr("fill",(d,k)=>polyCols[k]).attr("stroke","#777").attr("stroke-width",.5);
  signSets.forEach((signs,r)=>{
    const spans=[];
    slices.forEach((s,k)=>{
      if(signs[k]!=="+")return;
      const last=spans[spans.length-1];
      if(last&&Math.abs(last[1]-s.startAngle)<1e-6)last[1]=s.endAngle;else spans.push([s.startAngle,s.endAngle]);
    });
    const arc=d3.arc().innerRadius(ringR[r][0]).outerRadius(ringR[r][1]);
    spans.forEach(a=>g.append("path").attr("d",arc({startAngle:a[0],endAngle:a[1]})).attr("fill",ringC[r]));
  });
  txt(svg,i?436:358,770,variants[i],{a:"middle"});
});
txt(svg,398,780,"NS",{a:"middle"});
svg.append("line").attr("x1",386).attr("x2",410).attr("y1",784).attr("y2",784).attr("stroke","#222").attr("stroke-width",.9);
txt(svg,487,769,"Polyfunctionality");
const signX=[512,535,556];
["IFN-γ","IL-2","TNF"].forEach((h,i)=>txt(svg,[515,536,557][i],783,h,{a:"middle"}));
polyCols.forEach((c,i)=>{
  const y=792+i*8.1;
  svg.append("rect").attr("x",487).attr("y",y-2.3).attr("width",13).attr("height",4.6).attr("fill",c).attr("stroke","#888").attr("stroke-width",.5);
  signSets.forEach((s,j)=>txt(svg,signX[j],y+2.4,s[i],{a:"middle"}));
});
txt(svg,583,783,"Pie arcs");
arcNames.forEach((n,i)=>{
  const y=802+i*16.7;
  svg.append("rect").attr("x",583).attr("y",y-3).attr("width",12).attr("height",6).attr("fill",ringC[i]==="#7c2d12"?"#a8361e":ringC[i]).attr("stroke","#555").attr("stroke-width",.6);
  txt(svg,599,y+2.7,n);
});
</script></body></html>
